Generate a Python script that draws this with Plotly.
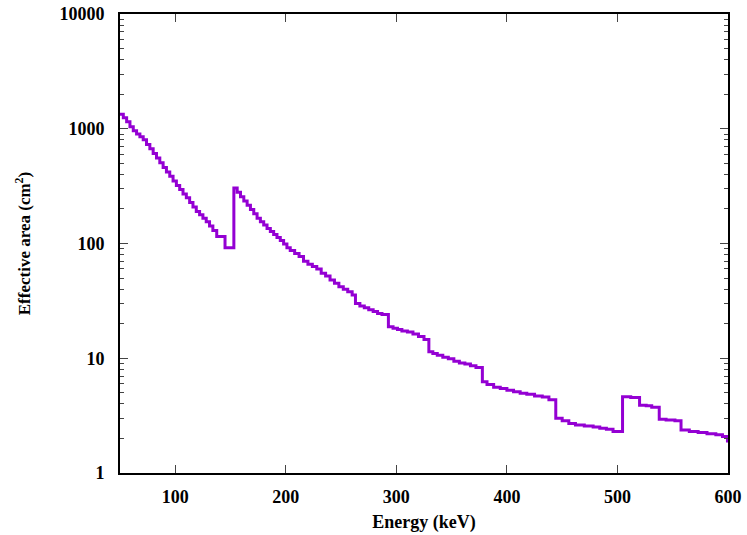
import plotly.graph_objects as go

# Energy bin starts (keV) and effective area (cm^2), step function
energy = [50, 53, 56, 59, 62, 65, 68, 71, 74, 77, 80, 83, 86, 89, 92, 95, 98, 101, 104, 107,
          110, 113, 116, 119, 122, 125, 128, 131, 134, 137.5, 145, 153, 156, 159, 162, 165, 168,
          171, 174, 177, 180, 183, 186, 189, 192, 195, 198, 201, 204, 208, 212, 216, 220, 224,
          228, 232, 236, 240, 244, 248, 252, 256, 260, 263, 267, 271, 275, 279, 283, 287, 292.8,
          297, 301, 305, 310, 315, 320, 325, 329.4, 333, 337, 342, 347, 352, 357, 362, 367, 372,
          377.8, 382, 388, 394, 400, 406, 412, 418, 425, 432, 438, 444.2, 450, 456, 462, 470,
          478, 484, 490, 496, 504.6, 512, 520, 526, 531, 537.8, 544, 552, 557.5, 565, 573, 581,
          589, 595, 599.5, 600]
area = [1340, 1250, 1150, 1040, 960, 900, 850, 800, 730, 670, 610, 555, 505, 460, 420, 385, 350,
        320, 295, 270, 250, 228, 208, 190, 178, 166, 155, 142, 130, 115, 92, 305, 280, 255, 235,
        215, 198, 182, 166, 155, 145, 135, 127, 120, 113, 106, 99, 92, 87, 82, 77, 70, 66, 63,
        60, 55, 52, 48, 45, 42, 40, 38, 35.5, 30, 28.5, 27.5, 26.5, 25.5, 24.5, 24, 18.8, 18.3,
        17.8, 17.3, 16.9, 16.3, 15.5, 14.6, 11.4, 11, 10.6, 10.2, 9.9, 9.4, 9.1, 8.9, 8.6, 8.3,
        6.25, 5.9, 5.6, 5.45, 5.25, 5.1, 4.95, 4.85, 4.7, 4.6, 4.35, 3.0, 2.85, 2.7, 2.62, 2.57,
        2.52, 2.45, 2.4, 2.3, 4.62, 4.55, 3.9, 3.85, 3.75, 2.94, 2.9, 2.85, 2.37, 2.3, 2.25, 2.2,
        2.15, 2.08, 1.9, 1.9]

x_ticks = [100, 200, 300, 400, 500, 600]
y_ticks = [1, 10, 100, 1000, 10000]
y_labels = ["1", "10", "100", "1000", "10000"]

font = "Liberation Serif"

fig = go.Figure()
fig.add_trace(go.Scatter(x=energy, y=area, mode="lines", line_shape="hv",
                         line=dict(color="#9400D3", width=3), showlegend=False))

fig.update_layout(
    width=747, height=535,
    margin=dict(l=120, r=19, t=14, b=62),
    paper_bgcolor="white", plot_bgcolor="white",
    font=dict(family=font, size=18, color="black", weight="bold"),
)
fig.update_xaxes(
    range=[50, 600], tickvals=x_ticks, ticks="inside", ticklen=8, tickwidth=1,
    showline=True, linecolor="black", linewidth=2, mirror="allticks",
    showgrid=False, zeroline=False, ticklabelstandoff=6, automargin=False,
    tickfont=dict(weight="bold"),
    title=dict(text="Energy (keV)", font=dict(size=18, weight="bold"), standoff=10),
)
fig.update_yaxes(
    type="log", range=[0, 4], tickvals=y_ticks, ticktext=y_labels,
    ticks="inside", ticklen=8, tickwidth=1,
    showline=True, linecolor="black", linewidth=2, mirror="allticks",
    showgrid=False, zeroline=False, ticklabelstandoff=10, automargin=False,
    tickfont=dict(weight="bold"),
    minor=dict(ticks="inside", ticklen=4, tickwidth=1, dtick="D1", showgrid=False),
    title=dict(text="Effective area (cm<sup>2</sup>)", font=dict(size=17, weight="bold"), standoff=24),
)

fig.write_html("out.html", config={"displayModeBar": False},
               post_script="document.body.style.margin='0';")
